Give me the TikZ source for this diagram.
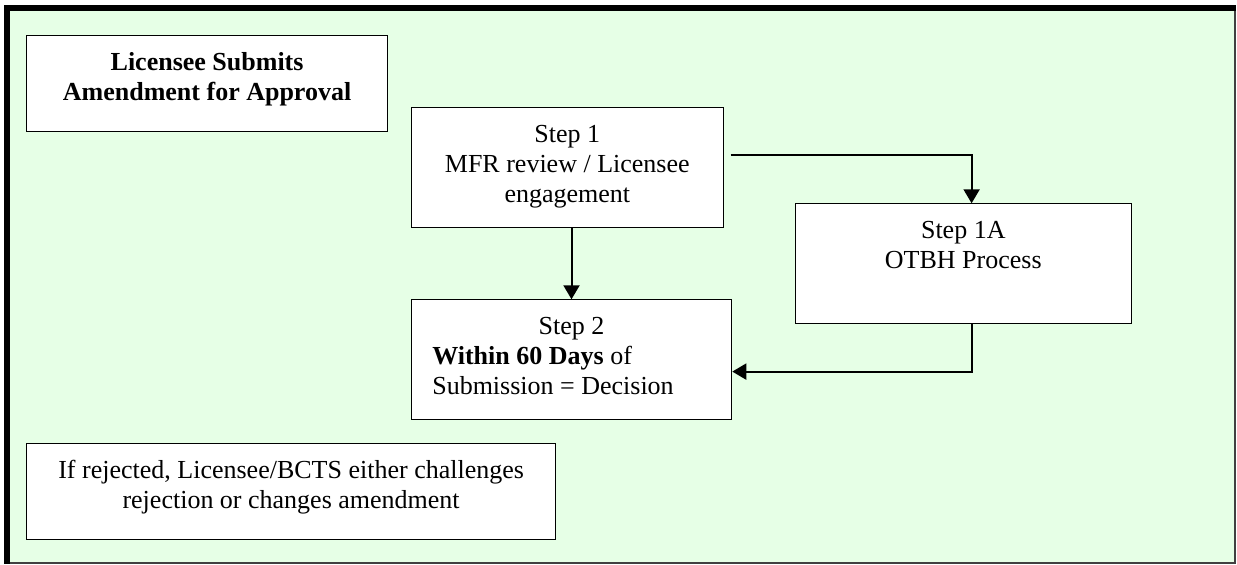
\documentclass[tikz,border=0pt]{standalone}
\usepackage{fontspec}
\setmainfont{Liberation Serif}
\usetikzlibrary{arrows.meta}
\definecolor{mintbg}{RGB}{230,255,230}

% text hangs from the top of a box of fixed size
\newcommand{\topbox}[3]{\parbox[t][#2][t]{#1}{\centering\rule{0pt}{17.5pt}#3}}

\begin{document}
\begin{tikzpicture}[x=0.5pt, y=-0.5pt,
    stepbox/.style={draw=black, line width=0.6pt, fill=white, anchor=north west,
                    inner sep=0pt, font=\fontsize{13}{15}\selectfont},
    flow/.style={line width=1pt, -{Triangle[length=7pt,width=8pt]}}]
    \useasboundingbox (0,0) rectangle (1237,565);
    % green frame, heavy on top and left
    \fill[mintbg] (4,5) rectangle (1235,563);
    \draw[line width=1pt, black!75] (7,563) -- (1235,563) -- (1235,8);
    \draw[line width=3pt] (7,564) -- (7,8) -- (1236,8);

    \node[stepbox] (submit) at (26,35)
        {\topbox{180.5pt}{48pt}{\bfseries Licensee Submits\\ Amendment for Approval}};
    \node[stepbox] (step1) at (410.7,107.3)
        {\topbox{156pt}{59.7pt}{Step 1\\ MFR review / Licensee\\ engagement}};
    \node[stepbox] (step1a) at (794.7,203.3)
        {\topbox{168pt}{60pt}{Step 1A\\ OTBH Process}};
    \node[stepbox] (step2) at (410.7,299.3)
        {\topbox{160.2pt}{60pt}{Step 2\par\raggedright\leftskip=10.5pt
         \textbf{Within 60 Days} of\\ Submission = Decision}};
    \node[stepbox] (reject) at (26,443.3)
        {\topbox{264.5pt}{47.9pt}{If rejected, Licensee/BCTS either challenges\\ rejection or changes amendment}};

    \coordinate (s1out) at (730.7,155.3);
    \draw[flow] (step2.north |- step1.south) -- (step2.north);
    \draw[flow] (s1out) -| ([xshift=4.15pt]step1a.north);
    \draw[flow] ([xshift=4.15pt]step1a.south) |- ([yshift=-5.85pt]step2.east);
\end{tikzpicture}
\end{document}
